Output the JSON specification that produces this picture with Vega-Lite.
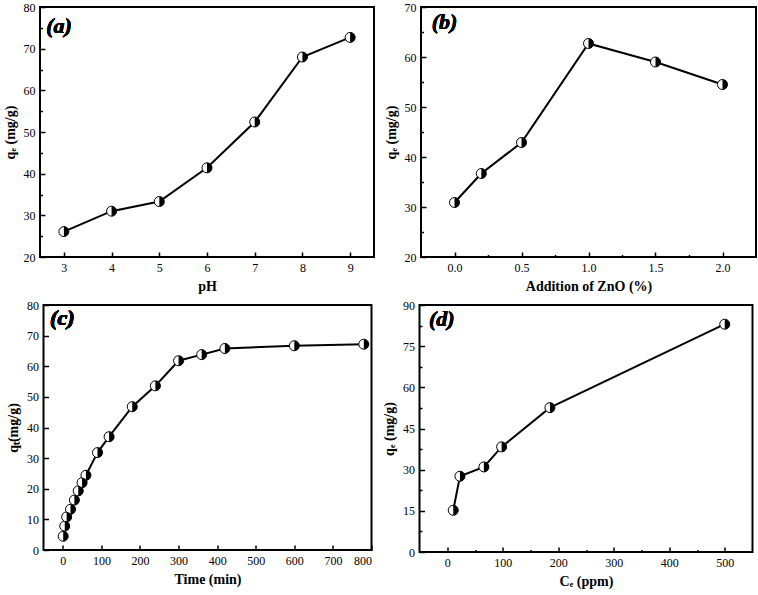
{
  "$schema": "https://vega.github.io/schema/vega-lite/v6.json",
  "padding": {"left": 2, "top": 0, "right": 0, "bottom": 0},
  "background": "white",
  "config": {
    "font": "Liberation Serif",
    "view": {"stroke": "black", "strokeWidth": 2},
    "axis": {
      "grid": false,
      "domain": false,
      "tickColor": "black",
      "tickWidth": 1.5,
      "tickSize": -5,
      "labelPadding": 10,
      "labelFontSize": 12,
      "labelColor": "black",
      "labelFont": "Liberation Serif",
      "titleFont": "Liberation Serif",
      "titleFontSize": 14,
      "titleFontWeight": "bold",
      "titleColor": "black",
      "titlePadding": 6
    }
  },
  "spacing": 4,
  "center": true,
  "vconcat": [
    {
      "bounds": "flush",
      "spacing": 47,
      "hconcat": [
        {
          "width": 334,
          "height": 250,
          "data": {"values": [
            {"pH": 3, "qe": 26.1},
            {"pH": 4, "qe": 31.0},
            {"pH": 5, "qe": 33.3},
            {"pH": 6, "qe": 41.4},
            {"pH": 7, "qe": 52.4},
            {"pH": 8, "qe": 68.0},
            {"pH": 9, "qe": 72.7}
          ]},
          "encoding": {
            "x": {"field": "pH", "type": "quantitative", "scale": {"domain": [2.5, 9.5], "nice": false, "zero": false},
                  "axis": {"values": [3, 3.5, 4, 4.5, 5, 5.5, 6, 6.5, 7, 7.5, 8, 8.5, 9], "format": "d", "labelExpr": "datum.value % 1 === 0 ? datum.label : ''",
                           "tickSize": {"condition": {"test": "datum.value % 1 !== 0", "value": -2.5}, "value": -5}, "title": "pH"}},
            "y": {"field": "qe", "type": "quantitative", "scale": {"domain": [20, 80], "nice": false, "zero": false},
                  "axis": {"values": [20, 25, 30, 35, 40, 45, 50, 55, 60, 65, 70, 75, 80], "labelExpr": "datum.value % 10 === 0 ? datum.label : ''",
                           "tickSize": {"condition": {"test": "datum.value % 10 !== 0", "value": -2.5}, "value": -5}, "title": "qₑ (mg/g)"}}
          },
          "layer": [
            {"mark": {"type": "line", "color": "black", "strokeWidth": 2}},
            {"mark": {"type": "point", "shape": "circle", "filled": true, "fill": "white", "stroke": "black", "strokeWidth": 1, "size": 100, "opacity": 1}},
            {"mark": {"type": "point", "shape": "M0,-1A1,1,0,0,1,0,1Z", "filled": true, "fill": "black", "strokeWidth": 0, "size": 100, "opacity": 1}},
            {"mark": {"type": "text", "text": "(a)", "fontSize": 22, "fontWeight": "bold", "fontStyle": "italic", "align": "left", "baseline": "middle", "color": "black"},
             "encoding": {"x": {"datum": 2.63}, "y": {"datum": 75.4}}}
          ]
        },
        {
          "width": 335,
          "height": 250,
          "data": {"values": [
            {"zno": 0.0, "qe": 30.9},
            {"zno": 0.2, "qe": 36.7},
            {"zno": 0.5, "qe": 42.9},
            {"zno": 1.0, "qe": 62.7},
            {"zno": 1.5, "qe": 59.0},
            {"zno": 2.0, "qe": 54.5}
          ]},
          "encoding": {
            "x": {"field": "zno", "type": "quantitative", "scale": {"domain": [-0.25, 2.25], "nice": false, "zero": false},
                  "axis": {"values": [0, 0.25, 0.5, 0.75, 1, 1.25, 1.5, 1.75, 2], "format": ".1f",
                           "labelExpr": "abs(datum.value * 2 - round(datum.value * 2)) < 0.01 ? datum.label : ''",
                           "tickSize": {"condition": {"test": "abs(datum.value * 2 - round(datum.value * 2)) > 0.01", "value": -2.5}, "value": -5},
                           "title": "Addition of ZnO (%)"}},
            "y": {"field": "qe", "type": "quantitative", "scale": {"domain": [20, 70], "nice": false, "zero": false},
                  "axis": {"values": [20, 25, 30, 35, 40, 45, 50, 55, 60, 65, 70], "labelExpr": "datum.value % 10 === 0 ? datum.label : ''",
                           "tickSize": {"condition": {"test": "datum.value % 10 !== 0", "value": -2.5}, "value": -5}, "title": "qₑ (mg/g)"}}
          },
          "layer": [
            {"mark": {"type": "line", "color": "black", "strokeWidth": 2}},
            {"mark": {"type": "point", "shape": "circle", "filled": true, "fill": "white", "stroke": "black", "strokeWidth": 1, "size": 100, "opacity": 1}},
            {"mark": {"type": "point", "shape": "M0,-1A1,1,0,0,1,0,1Z", "filled": true, "fill": "black", "strokeWidth": 0, "size": 100, "opacity": 1}},
            {"mark": {"type": "text", "text": "(b)", "fontSize": 22, "fontWeight": "bold", "fontStyle": "italic", "align": "left", "baseline": "middle", "color": "black"},
             "encoding": {"x": {"datum": -0.17}, "y": {"datum": 67}}}
          ]
        }
      ]
    },
    {
      "bounds": "flush",
      "spacing": 48,
      "hconcat": [
        {
          "width": 328,
          "height": 245,
          "data": {"values": [
            {"t": 1, "qt": 4.5},
            {"t": 5, "qt": 7.8},
            {"t": 10, "qt": 10.8},
            {"t": 20, "qt": 13.3},
            {"t": 30, "qt": 16.3},
            {"t": 40, "qt": 19.3},
            {"t": 50, "qt": 22.0},
            {"t": 60, "qt": 24.4},
            {"t": 90, "qt": 31.8},
            {"t": 120, "qt": 37.0},
            {"t": 180, "qt": 46.8},
            {"t": 240, "qt": 53.6},
            {"t": 300, "qt": 61.8},
            {"t": 360, "qt": 63.8},
            {"t": 420, "qt": 65.8},
            {"t": 600, "qt": 66.7},
            {"t": 780, "qt": 67.2}
          ]},
          "encoding": {
            "x": {"field": "t", "type": "quantitative", "scale": {"domain": [-50, 800], "nice": false, "zero": false}, "axis": {"values": [0, 100, 200, 300, 400, 500, 600, 700, 800], "title": "Time (min)"}},
            "y": {"field": "qt", "type": "quantitative", "scale": {"domain": [0, 80], "nice": false, "zero": false}, "axis": {"values": [0, 10, 20, 30, 40, 50, 60, 70, 80], "title": "qₜ(mg/g)"}}
          },
          "layer": [
            {"mark": {"type": "line", "color": "black", "strokeWidth": 2}},
            {"mark": {"type": "point", "shape": "circle", "filled": true, "fill": "white", "stroke": "black", "strokeWidth": 1, "size": 100, "opacity": 1}},
            {"mark": {"type": "point", "shape": "M0,-1A1,1,0,0,1,0,1Z", "filled": true, "fill": "black", "strokeWidth": 0, "size": 100, "opacity": 1}},
            {"mark": {"type": "text", "text": "(c)", "fontSize": 22, "fontWeight": "bold", "fontStyle": "italic", "align": "left", "baseline": "middle", "color": "black"},
             "encoding": {"x": {"datum": -33}, "y": {"datum": 75.6}}}
          ]
        },
        {
          "width": 333,
          "height": 247,
          "data": {"values": [
            {"ce": 10.8, "qe": 15.2},
            {"ce": 22.9, "qe": 27.6},
            {"ce": 66, "qe": 31.0},
            {"ce": 98, "qe": 38.3},
            {"ce": 185, "qe": 52.6},
            {"ce": 500, "qe": 83.0}
          ]},
          "encoding": {
            "x": {"field": "ce", "type": "quantitative", "scale": {"domain": [-50, 550], "nice": false, "zero": false},
                  "axis": {"values": [0, 50, 100, 150, 200, 250, 300, 350, 400, 450, 500], "labelExpr": "datum.value % 100 === 0 ? datum.label : ''",
                           "tickSize": {"condition": {"test": "datum.value % 100 !== 0", "value": -2.5}, "value": -5}, "title": "Cₑ (ppm)"}},
            "y": {"field": "qe", "type": "quantitative", "scale": {"domain": [0, 90], "nice": false, "zero": false},
                  "axis": {"values": [0, 7.5, 15, 22.5, 30, 37.5, 45, 52.5, 60, 67.5, 75, 82.5, 90], "format": "d", "labelExpr": "datum.value % 15 === 0 ? datum.label : ''",
                           "tickSize": {"condition": {"test": "datum.value % 15 !== 0", "value": -2.5}, "value": -5}, "title": "qₑ (mg/g)"}}
          },
          "layer": [
            {"mark": {"type": "line", "color": "black", "strokeWidth": 2}},
            {"mark": {"type": "point", "shape": "circle", "filled": true, "fill": "white", "stroke": "black", "strokeWidth": 1, "size": 100, "opacity": 1}},
            {"mark": {"type": "point", "shape": "M0,-1A1,1,0,0,1,0,1Z", "filled": true, "fill": "black", "strokeWidth": 0, "size": 100, "opacity": 1}},
            {"mark": {"type": "text", "text": "(d)", "fontSize": 22, "fontWeight": "bold", "fontStyle": "italic", "align": "left", "baseline": "middle", "color": "black"},
             "encoding": {"x": {"datum": -33}, "y": {"datum": 84.9}}}
          ]
        }
      ]
    }
  ]
}
